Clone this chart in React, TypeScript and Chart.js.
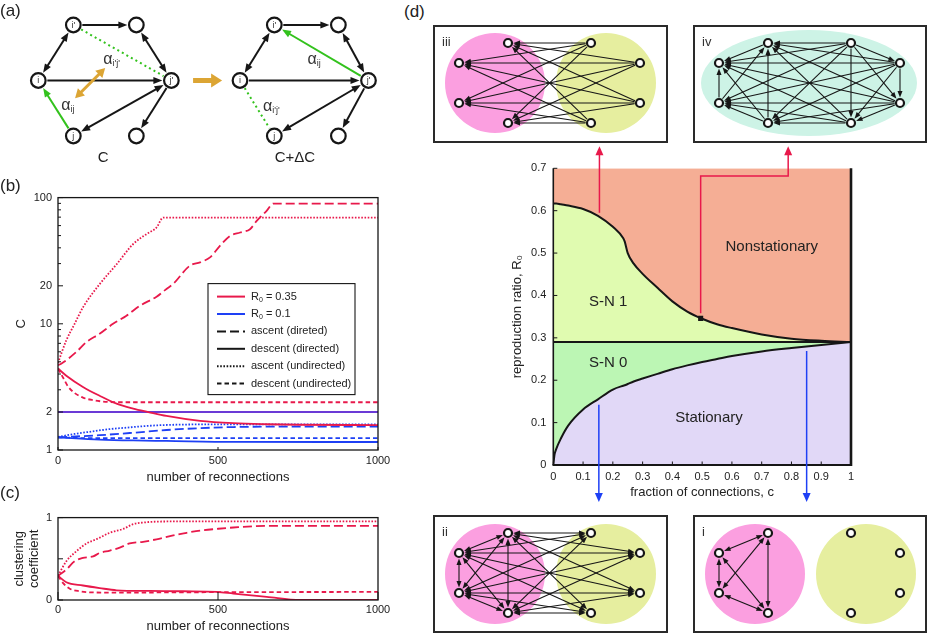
import React, { useEffect, useRef } from 'react';
import { Chart, registerables } from 'chart.js';

Chart.register(...registerables);

const FONT = '"Liberation Sans", Arial, Helvetica, sans-serif';
Chart.defaults.font.family = FONT;
Chart.defaults.color = '#222';

const RED = '#e8194b';
const BLUE = '#1e40f5';
const PURPLE = '#6b3ad6';
const GREEN = '#33c21d';
const GOLD = '#dca534';
const INK = '#161616';
const SALMON = '#f5ae95';
const LIME = '#e0fbb0';
const MINT = '#bcf6b4';
const LAVENDER = '#e1d8f7';
const PINK = '#fb9fe0';
const YELLOW = '#e6ee9f';
const TEAL = '#cdf3e6';

// ===================== (b) C vs number of reconnections =====================
const RECONN_TICKS = [0, 500, 1000];
const B_Y_TICKS = [1, 2, 10, 20, 100];
const B_Y_MINOR = [3, 4, 5, 6, 7, 8, 9, 30, 40, 50, 60, 70, 80, 90];

const redAscDirX = [0, 10, 57, 89, 130, 172, 214, 256, 308, 339, 360, 412, 444, 475, 506, 538, 569, 600, 621, 652, 673, 1000];
const redAscDirY = [4.7, 4.83, 5.97, 7.17, 8.34, 10.0, 11.6, 13.9, 16.4, 18.9, 20.7, 28.9, 30.7, 33.6, 41.5, 49.8, 52.9, 56.2, 65.4, 78.5, 89.7, 89.7];
const redAscUndX = [0, 26, 52, 78, 130, 183, 235, 277, 308, 329, 1000];
const redAscUndY = [4.9, 7.4, 10.0, 13.5, 20.6, 29.6, 42.9, 51.5, 58.0, 69.5, 69.5];
const redDescDirX = [0, 26, 78, 130, 183, 235, 282, 339, 444, 548, 652, 757, 1000];
const redDescDirY = [4.42, 3.88, 3.16, 2.69, 2.33, 2.13, 2.0, 1.86, 1.7, 1.63, 1.6, 1.585, 1.575];
const redDescUndX = [0, 16, 31, 52, 78, 110, 141, 183, 1000];
const redDescUndY = [4.42, 3.74, 3.2, 2.83, 2.6, 2.48, 2.42, 2.39, 2.39];
const blueAscDirX = [0, 130, 235, 339, 444, 548, 652, 1000];
const blueAscDirY = [1.26, 1.31, 1.37, 1.44, 1.49, 1.52, 1.53, 1.53];
const blueAscUndX = [0, 52, 104, 157, 209, 261, 313, 365, 450, 1000];
const blueAscUndY = [1.27, 1.34, 1.4, 1.46, 1.5, 1.54, 1.57, 1.585, 1.595, 1.595];
const blueDescDirX = [0, 130, 235, 339, 548, 1000];
const blueDescDirY = [1.26, 1.21, 1.19, 1.18, 1.16, 1.157];
const blueDescUndX = [0, 100, 1000];
const blueDescUndY = [1.26, 1.24, 1.24];
const refLineX = [0, 1000];
const refLineY = [2, 2];

const B_LEGEND_LABELS = ['R₀ = 0.35', 'R₀ = 0.1', 'ascent (direted)', 'descent (directed)', 'ascent (undirected)', 'descent (undirected)'];

// ===================== (c) clustering coefficient =====================
const C_Y_TICKS = [0, 1];
const C_Y_MINOR = [0.5];
const ccAscUndX = [0, 26, 57, 89, 120, 162, 204, 235, 266, 339, 1000];
const ccAscUndY = [0.294, 0.47, 0.59, 0.686, 0.737, 0.816, 0.863, 0.92, 0.94, 0.953, 0.953];
const ccAscDirX = [0, 26, 52, 78, 110, 130, 162, 193, 224, 266, 308, 360, 402, 444, 496, 548, 652, 1000];
const ccAscDirY = [0.294, 0.37, 0.47, 0.51, 0.53, 0.57, 0.6, 0.635, 0.686, 0.706, 0.737, 0.784, 0.816, 0.843, 0.863, 0.88, 0.9, 0.9];
const ccDescDirX = [0, 26, 78, 130, 183, 287, 391, 496, 548, 652, 757, 1000];
const ccDescDirY = [0.294, 0.216, 0.176, 0.145, 0.118, 0.11, 0.106, 0.098, 0.078, 0.039, 0, 0];
const ccDescUndX = [0, 16, 37, 68, 110, 183, 500, 1000];
const ccDescUndY = [0.294, 0.204, 0.137, 0.106, 0.092, 0.09, 0.095, 0.098];

// ===================== (d) phase diagram =====================
const D_X_TICKS = [0, 0.1, 0.2, 0.3, 0.4, 0.5, 0.6, 0.7, 0.8, 0.9, 1];
const D_Y_TICKS = [0, 0.1, 0.2, 0.3, 0.4, 0.5, 0.6, 0.7];
const D_C = [0, 0.004, 0.01, 0.025, 0.05, 0.1, 0.15, 0.2, 0.235, 0.24, 0.25, 0.27, 0.3, 0.35, 0.4, 0.45, 0.5, 0.55, 0.6, 0.7, 0.8, 0.9, 1];
const D_UPPER = [0.617, 0.617, 0.617, 0.615, 0.612, 0.604, 0.588, 0.562, 0.535, 0.527, 0.5, 0.475, 0.451, 0.418, 0.386, 0.362, 0.345, 0.332, 0.323, 0.308, 0.298, 0.293, 0.29];
const D_LOWER = [0, 0.024, 0.038, 0.062, 0.093, 0.131, 0.155, 0.178, 0.187, 0.188, 0.191, 0.197, 0.204, 0.215, 0.226, 0.235, 0.243, 0.25, 0.257, 0.268, 0.276, 0.283, 0.29];
const D_THRESHOLD = 0.29;
const D_MARK_C = 0.495;
const D_MARK_R = 0.346;
const D_REGION_NAMES = ['Nonstationary', 'S-N 1', 'S-N 0', 'Stationary'];
const D_REGION_C = [0.734, 0.184, 0.184, 0.523];
const D_REGION_R = [0.515, 0.385, 0.242, 0.111];
const D_RED_PATHS_C = [[0.155, 0.155], [0.495, 0.495, 0.789, 0.789]];
const D_RED_PATHS_R = [[0.595, 0.752], [0.358, 0.682, 0.682, 0.752]];
const D_BLUE_PATHS_C = [[0.153, 0.153], [0.851, 0.851]];
const D_BLUE_PATHS_R = [[0.142, -0.087], [0.269, -0.087]];

// ===================== (a) network diagrams =====================
// layout units: nodes i, i', top-right, j', j, bottom-right (before / after)
const A_NODE_X = [0, 1, 2.8, 3.8, 1, 2.8, 5.76, 6.74, 8.57, 9.43, 6.74, 8.57];
const A_NODE_Y = [1, 0, 0, 1, 2, 2, 1, 0, 0, 1, 2, 2];
const A_NODE_LABELS = ['i', "i'", '', "j'", 'j', '', 'i', "i'", '', "j'", 'j', ''];
const A_EDGES: [number, number, string, string][] = [
  [1, 2, 'end', 'k'], [1, 0, 'both', 'k'], [2, 3, 'both', 'k'], [0, 3, 'end', 'k'], [3, 4, 'both', 'k'], [3, 5, 'end', 'k'], [4, 0, 'end', 'g'], [1, 3, 'none', 'gd'],
  [7, 8, 'end', 'k'], [7, 6, 'both', 'k'], [8, 9, 'both', 'k'], [6, 9, 'end', 'k'], [9, 10, 'both', 'k'], [9, 11, 'end', 'k'], [9, 7, 'end', 'g'], [6, 10, 'none', 'gd'],
];
const A_ALPHA_X = [1.99, 0.79, 7.82, 6.55];
const A_ALPHA_Y = [0.63, 1.46, 0.63, 1.47];
const A_ALPHA_SUB = ["i'j'", 'ij', 'ij', "i'j'"];
const A_CAPTIONS = ['C', 'C+ΔC'];
const A_CAPTION_X = [1.85, 7.33];
const A_CAPTION_Y = [2.4, 2.4];

// ===================== (d) insets: node layout in box units =====================
const INSET_NODE_X = [75, 26, 26, 75, 158, 207, 207, 158];
const INSET_NODE_Y = [18, 38, 78, 98, 18, 38, 78, 98];
const EDGES_III = [[4, 0], [4, 1], [4, 2], [4, 3], [5, 0], [5, 1], [5, 2], [5, 3], [6, 0], [6, 1], [6, 2], [6, 3], [7, 0], [7, 1], [7, 2], [7, 3]];
const EDGES_IV = [
  [4, 5], [4, 6], [4, 7], [4, 3], [4, 2], [4, 0], [4, 1],
  [5, 6], [5, 7], [5, 3], [5, 2], [5, 0], [5, 1],
  [6, 7], [6, 3], [6, 2], [6, 0], [6, 1],
  [7, 3], [7, 2], [7, 0], [7, 1],
  [3, 2], [3, 0], [3, 1],
  [2, 0], [2, 1],
  [0, 1],
];
const EDGES_II = [
  [0, 1], [0, 2], [0, 3], [1, 2], [1, 3], [2, 3],
  [4, 0], [4, 1], [4, 2], [4, 3], [5, 0], [5, 1], [5, 2], [5, 3], [6, 0], [6, 1], [6, 2], [6, 3], [7, 0], [7, 1], [7, 2], [7, 3],
];
const EDGES_I = [[0, 1], [0, 2], [0, 3], [1, 2], [1, 3], [2, 3]];

// ===================== helpers =====================
const pts = (xs: number[], ys: number[]) => xs.map((x, i) => ({ x, y: ys[i] }));

const DASH_ASC_DIR = [9, 4];
const DASH_DESC_DIR: number[] = [];
const DASH_ASC_UND = [1.6, 1.6];
const DASH_DESC_UND = [4.5, 3];

function seg(ctx: any, x1: number, y1: number, x2: number, y2: number) {
  ctx.beginPath();
  ctx.moveTo(x1, y1);
  ctx.lineTo(x2, y2);
  ctx.stroke();
}

function head(ctx: any, tx: number, ty: number, fx: number, fy: number, len: number, wid: number) {
  const a = Math.atan2(ty - fy, tx - fx);
  const bx = tx - len * Math.cos(a);
  const by = ty - len * Math.sin(a);
  const nx = (-Math.sin(a) * wid) / 2;
  const ny = (Math.cos(a) * wid) / 2;
  ctx.beginPath();
  ctx.moveTo(tx, ty);
  ctx.lineTo(bx + nx, by + ny);
  ctx.lineTo(bx - nx, by - ny);
  ctx.closePath();
  ctx.fill();
}

function arrowLine(ctx: any, x1: number, y1: number, x2: number, y2: number, r1: number, r2: number, heads: string, len: number, wid: number) {
  const dx = x2 - x1;
  const dy = y2 - y1;
  const d = Math.hypot(dx, dy);
  const ux = dx / d;
  const uy = dy / d;
  const sx = x1 + ux * r1;
  const sy = y1 + uy * r1;
  const ex = x2 - ux * r2;
  const ey = y2 - uy * r2;
  const hs = heads === 'start' || heads === 'both';
  const he = heads === 'end' || heads === 'both';
  const lsx = hs ? sx + ux * len * 0.7 : sx;
  const lsy = hs ? sy + uy * len * 0.7 : sy;
  const lex = he ? ex - ux * len * 0.7 : ex;
  const ley = he ? ey - uy * len * 0.7 : ey;
  seg(ctx, lsx, lsy, lex, ley);
  if (he) head(ctx, ex, ey, sx, sy, len, wid);
  if (hs) head(ctx, sx, sy, ex, ey, len, wid);
}

function subText(ctx: any, text: string, x: number, y: number, size: number) {
  const parts = text.split('₀');
  ctx.font = `${size}px ${FONT}`;
  if (parts.length !== 2) {
    ctx.fillText(text, x, y);
    return;
  }
  ctx.fillText(parts[0], x, y);
  let w = ctx.measureText(parts[0]).width;
  ctx.font = `${Math.round(size * 0.65)}px ${FONT}`;
  ctx.fillText('0', x + w, y + size * 0.28);
  w += ctx.measureText('0').width;
  ctx.font = `${size}px ${FONT}`;
  ctx.fillText(parts[1], x + w, y);
}

const baseOptions = {
  responsive: false,
  animation: false,
  devicePixelRatio: 1,
  events: [],
};

function ChartCanvas({ x, y, w, h, make }: { x: number; y: number; w: number; h: number; make: () => any }) {
  const ref = useRef<HTMLCanvasElement>(null);
  useEffect(() => {
    const chart = new Chart(ref.current as HTMLCanvasElement, make());
    return () => chart.destroy();
  }, []);
  return <canvas ref={ref} width={w} height={h} style={{ position: 'absolute', left: x, top: y, width: w, height: h }} />;
}

// ===================== (a) =====================
const aDecor = {
  id: 'aDecor',
  beforeDatasetsDraw(chart: any) {
    const { ctx, scales } = chart;
    const px = (v: number) => scales.x.getPixelForValue(v);
    const py = (v: number) => scales.y.getPixelForValue(v);
    ctx.save();
    ctx.lineCap = 'butt';
    A_EDGES.forEach(([a, b, heads, kind]) => {
      const color = kind === 'k' ? INK : GREEN;
      ctx.strokeStyle = color;
      ctx.fillStyle = color;
      ctx.lineWidth = 2;
      if (kind === 'gd') {
        ctx.setLineDash([2, 3.2]);
      } else {
        ctx.setLineDash([]);
      }
      arrowLine(ctx, px(A_NODE_X[a]), py(A_NODE_Y[a]), px(A_NODE_X[b]), py(A_NODE_Y[b]), 9, 9, heads, 9, 7);
    });
    ctx.setLineDash([]);
    // gold double arrow (swap) and transition arrow
    ctx.strokeStyle = GOLD;
    ctx.fillStyle = GOLD;
    ctx.lineWidth = 3;
    arrowLine(ctx, px(1.05), py(1.32), px(1.91), py(0.775), 0, 0, 'both', 9, 10);
    ctx.lineWidth = 5;
    arrowLine(ctx, px(4.42), py(1), px(5.25), py(1), 0, 0, 'end', 11, 14);
    ctx.restore();
  },
  afterDatasetsDraw(chart: any) {
    const { ctx, scales } = chart;
    const px = (v: number) => scales.x.getPixelForValue(v);
    const py = (v: number) => scales.y.getPixelForValue(v);
    ctx.save();
    ctx.fillStyle = '#333';
    ctx.textAlign = 'center';
    ctx.textBaseline = 'middle';
    ctx.font = `9px ${FONT}`;
    A_NODE_LABELS.forEach((t, i) => {
      if (t) ctx.fillText(t, px(A_NODE_X[i]), py(A_NODE_Y[i]) + 0.5);
    });
    A_ALPHA_SUB.forEach((sub, i) => {
      const x = px(A_ALPHA_X[i]);
      const y = py(A_ALPHA_Y[i]);
      ctx.font = `16px ${FONT}`;
      ctx.textAlign = 'left';
      const w = ctx.measureText('α').width;
      ctx.fillText('α', x - w / 2, y);
      ctx.font = `9px ${FONT}`;
      ctx.fillText(sub, x + w / 2, y + 4);
    });
    ctx.textAlign = 'center';
    ctx.font = `15px ${FONT}`;
    ctx.fillStyle = '#222';
    A_CAPTIONS.forEach((t, i) => ctx.fillText(t, px(A_CAPTION_X[i]), py(A_CAPTION_Y[i])));
    ctx.restore();
  },
};

function makeA() {
  return {
    type: 'scatter',
    data: {
      datasets: [
        {
          data: pts(A_NODE_X, A_NODE_Y),
          pointRadius: 7.3,
          borderWidth: 2.2,
          borderColor: INK,
          backgroundColor: '#fff',
          clip: false,
        },
      ],
    },
    options: {
      ...baseOptions,
      layout: { padding: 0, autoPadding: false },
      plugins: { legend: { display: false }, tooltip: { enabled: false } },
      scales: {
        x: { display: false, min: -1.094, max: 10.33 },
        y: { display: false, min: -0.45, max: 2.703, reverse: true },
      },
    },
    plugins: [aDecor],
  };
}

// ===================== (b) =====================
const bDecor = {
  id: 'bDecor',
  afterDatasetsDraw(chart: any) {
    const { ctx, chartArea: a, scales } = chart;
    const { x, y } = scales;
    ctx.save();
    ctx.strokeStyle = INK;
    ctx.lineWidth = 1;
    B_Y_TICKS.forEach((v) => {
      const p = y.getPixelForValue(v);
      seg(ctx, a.left, p, a.left + 5, p);
    });
    B_Y_MINOR.forEach((v) => {
      const p = y.getPixelForValue(v);
      seg(ctx, a.left, p, a.left + 3, p);
    });
    RECONN_TICKS.forEach((v) => {
      const p = x.getPixelForValue(v);
      seg(ctx, p, a.bottom, p, a.bottom - 3);
    });
    ctx.lineWidth = 1.3;
    ctx.strokeRect(a.left, a.top, a.right - a.left, a.bottom - a.top);

    // legend
    const lx = a.left + 150;
    const ly = a.top + 86;
    const lw = 147;
    const lh = 111;
    ctx.fillStyle = '#fff';
    ctx.fillRect(lx, ly, lw, lh);
    ctx.lineWidth = 1.1;
    ctx.strokeRect(lx, ly, lw, lh);
    const styles = [
      { c: RED, d: DASH_DESC_DIR },
      { c: BLUE, d: DASH_DESC_DIR },
      { c: INK, d: DASH_ASC_DIR },
      { c: INK, d: DASH_DESC_DIR },
      { c: INK, d: DASH_ASC_UND },
      { c: INK, d: DASH_DESC_UND },
    ];
    ctx.textAlign = 'left';
    ctx.textBaseline = 'middle';
    B_LEGEND_LABELS.forEach((t, i) => {
      const ry = ly + 13 + i * 17.4;
      ctx.strokeStyle = styles[i].c;
      ctx.setLineDash(styles[i].d);
      ctx.lineWidth = 2;
      seg(ctx, lx + 9, ry, lx + 37, ry);
      ctx.setLineDash([]);
      ctx.fillStyle = '#222';
      subText(ctx, t, lx + 43, ry, 11);
    });
    ctx.restore();
  },
};

function lineDs(xs: number[], ys: number[], color: string, dash: number[]) {
  return {
    data: pts(xs, ys),
    borderColor: color,
    borderWidth: 1.8,
    borderDash: dash,
    showLine: true,
    pointRadius: 0,
    fill: false,
    cubicInterpolationMode: 'monotone',
  };
}

function xAxis(height: number, padding: number) {
  return {
    type: 'linear',
    min: 0,
    max: 1000,
    grid: { display: false, drawTicks: false },
    border: { display: false },
    ticks: { font: { size: 11 }, padding, maxRotation: 0, autoSkip: false, color: '#222', callback: (v: number) => String(v) },
    afterBuildTicks: (s: any) => {
      s.ticks = RECONN_TICKS.map((v) => ({ value: v }));
    },
    afterFit: (s: any) => {
      s.height = height;
    },
    title: { display: true, text: 'number of reconnections', font: { size: 13 }, padding: 0, color: '#222' },
  };
}

function makeB() {
  return {
    type: 'scatter',
    data: {
      datasets: [
        lineDs(redAscDirX, redAscDirY, RED, DASH_ASC_DIR),
        lineDs(redAscUndX, redAscUndY, RED, DASH_ASC_UND),
        lineDs(redDescDirX, redDescDirY, RED, DASH_DESC_DIR),
        lineDs(redDescUndX, redDescUndY, RED, DASH_DESC_UND),
        lineDs(refLineX, refLineY, PURPLE, DASH_DESC_DIR),
        lineDs(blueAscDirX, blueAscDirY, BLUE, DASH_ASC_DIR),
        lineDs(blueAscUndX, blueAscUndY, BLUE, DASH_ASC_UND),
        lineDs(blueDescDirX, blueDescDirY, BLUE, DASH_DESC_DIR),
        lineDs(blueDescUndX, blueDescUndY, BLUE, DASH_DESC_UND),
      ],
    },
    options: {
      ...baseOptions,
      layout: { padding: { top: 10, right: 17, left: 0, bottom: 0 }, autoPadding: false },
      plugins: { legend: { display: false }, tooltip: { enabled: false } },
      scales: {
        x: xAxis(35, 4.4),
        y: {
          type: 'logarithmic',
          min: 1,
          max: 100,
          grid: { display: false, drawTicks: false },
          border: { display: false },
          ticks: { font: { size: 11 }, padding: 6, color: '#222', autoSkip: false, callback: (v: number) => String(v) },
          afterBuildTicks: (s: any) => {
            s.ticks = B_Y_TICKS.map((v) => ({ value: v }));
          },
          afterFit: (s: any) => {
            s.width = 58;
          },
          title: { display: true, text: 'C', font: { size: 13 }, padding: { top: 14, bottom: 0 }, color: '#222' },
        },
      },
    },
    plugins: [bDecor],
  };
}

// ===================== (c) =====================
const cDecor = {
  id: 'cDecor',
  afterDatasetsDraw(chart: any) {
    const { ctx, chartArea: a, scales } = chart;
    const { x, y } = scales;
    ctx.save();
    ctx.strokeStyle = INK;
    ctx.lineWidth = 1;
    [...C_Y_TICKS, ...C_Y_MINOR].forEach((v) => {
      const p = y.getPixelForValue(v);
      seg(ctx, a.left, p, a.left + 5, p);
    });
    RECONN_TICKS.forEach((v) => {
      const p = x.getPixelForValue(v);
      seg(ctx, p, a.bottom, p, a.bottom - 8);
    });
    ctx.lineWidth = 1.3;
    ctx.strokeRect(a.left, a.top, a.right - a.left, a.bottom - a.top);
    ctx.restore();
  },
};

function makeC() {
  return {
    type: 'scatter',
    data: {
      datasets: [
        lineDs(ccAscDirX, ccAscDirY, RED, DASH_ASC_DIR),
        lineDs(ccAscUndX, ccAscUndY, RED, DASH_ASC_UND),
        lineDs(ccDescDirX, ccDescDirY, RED, DASH_DESC_DIR),
        lineDs(ccDescUndX, ccDescUndY, RED, DASH_DESC_UND),
      ],
    },
    options: {
      ...baseOptions,
      layout: { padding: { top: 10, right: 17, left: 0, bottom: 2 }, autoPadding: false },
      plugins: { legend: { display: false }, tooltip: { enabled: false } },
      scales: {
        x: xAxis(34, 3.5),
        y: {
          type: 'linear',
          min: 0,
          max: 1,
          grid: { display: false, drawTicks: false },
          border: { display: false },
          ticks: { font: { size: 11 }, padding: 6, color: '#222', autoSkip: false, callback: (v: number) => String(v) },
          afterBuildTicks: (s: any) => {
            s.ticks = C_Y_TICKS.map((v) => ({ value: v }));
          },
          afterFit: (s: any) => {
            s.width = 58;
          },
          title: {
            display: true,
            text: ['clustering', 'coefficient'],
            font: { size: 13, lineHeight: 1.15 },
            padding: { top: 11.5, bottom: 0 },
            color: '#222',
          },
        },
      },
    },
    plugins: [cDecor],
  };
}

// ===================== (d) =====================
const dDecor = {
  id: 'dDecor',
  afterDatasetsDraw(chart: any) {
    const { ctx, chartArea: a, scales } = chart;
    const { x, y } = scales;
    ctx.save();
    ctx.strokeStyle = INK;
    ctx.lineWidth = 1;
    D_Y_TICKS.forEach((v) => {
      const p = y.getPixelForValue(v);
      seg(ctx, a.left, p, a.left + 4, p);
    });
    D_X_TICKS.forEach((v) => {
      const p = x.getPixelForValue(v);
      seg(ctx, p, a.bottom, p, a.bottom - 3.5);
    });
    ctx.lineWidth = 1.6;
    seg(ctx, a.left, a.top, a.left, a.bottom);
    ctx.lineWidth = 2.2;
    seg(ctx, a.left - 0.8, a.bottom, a.right + 1, a.bottom);
    ctx.lineWidth = 2.6;
    seg(ctx, a.right, a.top, a.right, a.bottom + 1);

    ctx.fillStyle = '#222';
    ctx.font = `15px ${FONT}`;
    ctx.textAlign = 'center';
    ctx.textBaseline = 'middle';
    D_REGION_NAMES.forEach((t, i) => ctx.fillText(t, x.getPixelForValue(D_REGION_C[i]), y.getPixelForValue(D_REGION_R[i])));

    const drawPaths = (cs: number[][], rs: number[][], color: string) => {
      ctx.strokeStyle = color;
      ctx.fillStyle = color;
      ctx.lineWidth = 1.5;
      cs.forEach((path, k) => {
        const P = path.map((c, i) => [x.getPixelForValue(c), y.getPixelForValue(rs[k][i])]);
        const n = P.length;
        const [tx, ty] = P[n - 1];
        const [fx, fy] = P[n - 2];
        const d = Math.hypot(tx - fx, ty - fy);
        const endX = tx - ((tx - fx) / d) * 6;
        const endY = ty - ((ty - fy) / d) * 6;
        ctx.beginPath();
        ctx.moveTo(P[0][0], P[0][1]);
        for (let i = 1; i < n - 1; i++) ctx.lineTo(P[i][0], P[i][1]);
        ctx.lineTo(endX, endY);
        ctx.stroke();
        head(ctx, tx, ty, fx, fy, 9, 8);
      });
    };
    drawPaths(D_RED_PATHS_C, D_RED_PATHS_R, RED);
    drawPaths(D_BLUE_PATHS_C, D_BLUE_PATHS_R, BLUE);
    ctx.restore();
  },
};

function makeD() {
  const thresholdLine = D_C.map((c) => ({ x: c, y: D_THRESHOLD }));
  return {
    type: 'line',
    data: {
      datasets: [
        { data: pts(D_C, D_UPPER), borderColor: INK, borderWidth: 2, pointRadius: 0, fill: 'end', backgroundColor: SALMON, cubicInterpolationMode: 'monotone' },
        { data: thresholdLine, borderColor: INK, borderWidth: 2, pointRadius: 0, fill: '-1', backgroundColor: LIME },
        { data: pts(D_C, D_LOWER), borderColor: INK, borderWidth: 2, pointRadius: 0, fill: 'start', backgroundColor: LAVENDER, cubicInterpolationMode: 'monotone' },
        { data: thresholdLine, borderColor: 'rgba(0,0,0,0)', borderWidth: 0, pointRadius: 0, fill: 2, backgroundColor: MINT },
        { data: [{ x: D_MARK_C, y: D_MARK_R }], showLine: false, pointStyle: 'rect', pointRadius: 3.6, backgroundColor: INK, borderColor: INK, borderWidth: 0 },
      ],
    },
    options: {
      ...baseOptions,
      layout: { padding: { top: 28.3, right: 76, left: 0, bottom: 5 }, autoPadding: false },
      plugins: { legend: { display: false }, tooltip: { enabled: false }, filler: { drawTime: 'beforeDatasetsDraw' } },
      scales: {
        x: {
          type: 'linear',
          min: 0,
          max: 1,
          grid: { display: false, drawTicks: false },
          border: { display: false },
          ticks: { font: { size: 11 }, padding: 5.4, maxRotation: 0, autoSkip: false, color: '#222', callback: (v: number) => String(v) },
          afterBuildTicks: (s: any) => {
            s.ticks = D_X_TICKS.map((v) => ({ value: v }));
          },
          afterFit: (s: any) => {
            s.height = 35;
          },
          title: { display: true, text: 'fraction of connections, c', font: { size: 13 }, padding: 0, color: '#222' },
        },
        y: {
          type: 'linear',
          min: 0,
          max: 0.7,
          grid: { display: false, drawTicks: false },
          border: { display: false },
          ticks: { font: { size: 11 }, padding: 7, autoSkip: false, color: '#222', callback: (v: number) => String(v) },
          afterBuildTicks: (s: any) => {
            s.ticks = D_Y_TICKS.map((v) => ({ value: v }));
          },
          afterFit: (s: any) => {
            s.width = 73.3;
          },
          title: { display: true, text: 'reproduction ratio, R₀', font: { size: 13 }, padding: { top: 30, bottom: 0 }, color: '#222' },
        },
      },
    },
    plugins: [dDecor],
  };
}

// ===================== insets =====================
type Blob = { cx: number; cy: number; rx: number; ry: number; color: string };

function makeInset(label: string, edges: number[][], heads: string, blobs: Blob[], w: number, h: number) {
  const decor = {
    id: 'insetDecor',
    beforeDatasetsDraw(chart: any) {
      const { ctx, scales } = chart;
      const px = (v: number) => scales.x.getPixelForValue(v);
      const py = (v: number) => scales.y.getPixelForValue(v);
      ctx.save();
      blobs.forEach((b) => {
        ctx.fillStyle = b.color;
        ctx.beginPath();
        ctx.ellipse(px(b.cx), py(b.cy), Math.abs(px(b.cx + b.rx) - px(b.cx)), Math.abs(py(b.cy + b.ry) - py(b.cy)), 0, 0, Math.PI * 2);
        ctx.fill();
      });
      ctx.strokeStyle = INK;
      ctx.fillStyle = INK;
      ctx.lineWidth = 1.1;
      edges.forEach(([a, b]) => {
        arrowLine(ctx, px(INSET_NODE_X[a]), py(INSET_NODE_Y[a]), px(INSET_NODE_X[b]), py(INSET_NODE_Y[b]), 5.5, 5.5, heads, 6.5, 5);
      });
      ctx.restore();
    },
    afterDraw(chart: any) {
      const { ctx } = chart;
      ctx.save();
      ctx.strokeStyle = '#2a2a2a';
      ctx.lineWidth = 2;
      ctx.strokeRect(1, 1, w - 2, h - 2);
      ctx.fillStyle = '#333';
      ctx.font = `13px ${FONT}`;
      ctx.textAlign = 'left';
      ctx.textBaseline = 'middle';
      ctx.fillText(label, 9, 17);
      ctx.restore();
    },
  };
  return () => ({
    type: 'scatter',
    data: {
      datasets: [
        {
          data: pts(INSET_NODE_X, INSET_NODE_Y),
          pointRadius: 4,
          borderWidth: 2.2,
          borderColor: INK,
          backgroundColor: '#fff',
          clip: false,
        },
      ],
    },
    options: {
      ...baseOptions,
      layout: { padding: 0, autoPadding: false },
      plugins: { legend: { display: false }, tooltip: { enabled: false } },
      scales: {
        x: { display: false, min: 0, max: w },
        y: { display: false, min: 0, max: h, reverse: true },
      },
    },
    plugins: [decor],
  });
}

const TWO_GROUPS: Blob[] = [
  { cx: 62, cy: 58, rx: 50, ry: 50, color: PINK },
  { cx: 173, cy: 58, rx: 50, ry: 50, color: YELLOW },
];
const TWO_GROUPS_LOW: Blob[] = [
  { cx: 62, cy: 59, rx: 50, ry: 50, color: PINK },
  { cx: 173, cy: 59, rx: 50, ry: 50, color: YELLOW },
];
const ONE_GROUP: Blob[] = [{ cx: 116, cy: 58, rx: 108, ry: 53, color: TEAL }];

const makeIII = makeInset('iii', EDGES_III, 'end', TWO_GROUPS, 235, 118);
const makeIV = makeInset('iv', EDGES_IV, 'end', ONE_GROUP, 234, 118);
const makeII = makeInset('ii', EDGES_II, 'both', TWO_GROUPS_LOW, 235, 118);
const makeI = makeInset('i', EDGES_I, 'both', TWO_GROUPS_LOW, 234, 118);

function PanelLabel({ x, y, text }: { x: number; y: number; text: string }) {
  return (
    <div style={{ position: 'absolute', left: x, top: y, fontSize: 17, lineHeight: '17px', color: '#222', fontFamily: FONT }}>
      {text}
    </div>
  );
}

export default function App() {
  return (
    <div style={{ position: 'absolute', left: 0, top: 0, width: 927, height: 636, background: '#fff', overflow: 'hidden' }}>
      <ChartCanvas x={0} y={0} w={400} h={175} make={makeA} />
      <ChartCanvas x={0} y={185} w={395} h={300} make={makeB} />
      <ChartCanvas x={0} y={505} w={395} h={131} make={makeC} />
      <ChartCanvas x={480} y={140} w={447} h={365} make={makeD} />
      <ChartCanvas x={433} y={25} w={235} h={118} make={makeIII} />
      <ChartCanvas x={693} y={25} w={234} h={118} make={makeIV} />
      <ChartCanvas x={433} y={515} w={235} h={118} make={makeII} />
      <ChartCanvas x={693} y={515} w={234} h={118} make={makeI} />
      <PanelLabel x={0} y={2} text="(a)" />
      <PanelLabel x={0} y={177} text="(b)" />
      <PanelLabel x={0} y={484} text="(c)" />
      <PanelLabel x={404} y={3} text="(d)" />
    </div>
  );
}
